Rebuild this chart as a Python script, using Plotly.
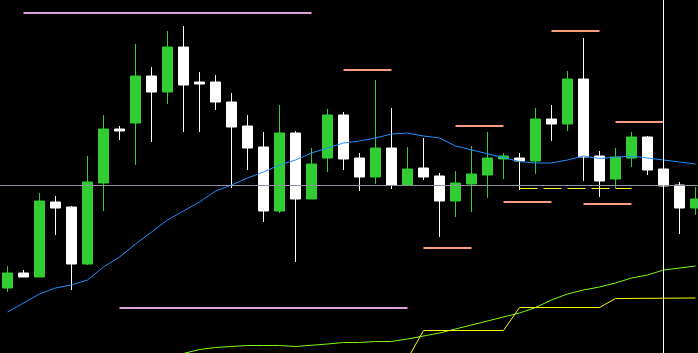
import plotly.graph_objects as go

# ---- data (price units; bar index on x) ----
bars = list(range(44))
opens = [65, 80, 76, 151, 146, 89, 170, 224, 230, 277, 261, 306, 271, 271, 251, 227, 206, 142, 220, 154,
         195, 238, 195, 176, 205, 168, 185, 177, 152, 169, 178, 194, 195, 192, 234, 229, 274, 197, 174, 195,
         216, 184, 168, 145]
highs = [87, 83, 160, 157, 147, 197, 238, 227, 309, 286, 322, 327, 281, 278, 260, 238, 221, 248, 222, 205,
         244, 241, 200, 273, 245, 206, 215, 180, 182, 207, 221, 200, 200, 245, 248, 282, 315, 202, 205, 221,
         217, 184, 171, 166]
lows = [61, 76, 76, 118, 63, 88, 142, 213, 188, 211, 249, 221, 221, 243, 165, 183, 131, 140, 91, 154,
        181, 183, 162, 169, 164, 168, 173, 116, 136, 141, 155, 174, 163, 179, 212, 222, 172, 156, 165, 186,
        178, 167, 119, 138]
closes = [80, 76, 152, 145, 89, 171, 224, 222, 277, 261, 306, 268, 269, 251, 226, 205, 142, 220, 154, 189,
          238, 194, 176, 205, 168, 184, 176, 152, 170, 179, 195, 197, 192, 234, 229, 274, 196, 172, 196, 216,
          183, 167, 145, 154]

ma_values = [41, 50, 59, 65, 68, 73, 86, 96, 109, 121, 133, 142, 151, 162, 168, 175, 181, 188, 193, 200,
             205, 210, 212, 215, 219, 220, 217, 215, 207, 203, 199, 195, 191.5, 190, 190, 193, 197, 194.5, 196, 197,
             195, 193, 191.5, 189]

lime_bars = list(range(10, 44))
lime_values = [-3, -0.5, 3.5, 5.5, 6.5, 7.5, 7.5, 7.5, 6.5, 7.5, 9, 10.5, 10.5, 11.5, 11.5, 14, 17, 20, 24, 28,
               32, 36, 40, 45.5, 53, 59, 63, 66, 70, 75, 78, 83, 85, 87]

yellow_bars = list(range(24, 44))
yellow_values = [-6, -6, 22.5, 22.5, 22.5, 22.5, 22.5, 22.5, 45.5, 45.5, 45.5, 45.5, 45.5, 45.5,
                 54.5, 54.5, 54.5, 54.5, 54.5, 55]

dash_start, dash_end, dash_level = 32, 39, 164.5

salmon_start = [21, 28, 34, 38, 26, 31, 36]
salmon_end = [24, 31, 37, 41, 29, 34, 39]
salmon_level = [283, 227, 322, 231, 105, 151, 149]

violet_start = [1, 7]
violet_end = [19, 25]
violet_level = [340, 45]

cross_bar = 41
cross_level = 167.5

GREEN = "#32cd32"
WHITE = "#ffffff"

fig = go.Figure()

fig.add_trace(go.Candlestick(
    x=bars, open=opens, high=highs, low=lows, close=closes,
    increasing=dict(fillcolor=GREEN, line=dict(color=GREEN, width=1)),
    decreasing=dict(fillcolor=WHITE, line=dict(color=WHITE, width=1)),
    whiskerwidth=0, showlegend=False, hoverinfo="skip",
))

fig.add_trace(go.Scatter(x=bars, y=ma_values, mode="lines",
                         line=dict(color="#1e90ff", width=1), showlegend=False, hoverinfo="skip"))
fig.add_trace(go.Scatter(x=lime_bars, y=lime_values, mode="lines",
                         line=dict(color="#7cfc00", width=1), showlegend=False, hoverinfo="skip"))
fig.add_trace(go.Scatter(x=yellow_bars, y=yellow_values, mode="lines",
                         line=dict(color="#ffff00", width=1), showlegend=False, hoverinfo="skip"))
fig.add_trace(go.Scatter(x=[dash_start, dash_end], y=[dash_level, dash_level], mode="lines",
                         line=dict(color="#ffff33", width=1, dash="18px,6px"),
                         showlegend=False, hoverinfo="skip"))

for s, e, v in zip(salmon_start, salmon_end, salmon_level):
    fig.add_trace(go.Scatter(x=[s, e], y=[v, v], mode="lines",
                             line=dict(color="#ffa07a", width=2), showlegend=False, hoverinfo="skip"))
for s, e, v in zip(violet_start, violet_end, violet_level):
    fig.add_trace(go.Scatter(x=[s, e], y=[v, v], mode="lines",
                             line=dict(color="#dda0dd", width=2), showlegend=False, hoverinfo="skip"))

fig.add_shape(type="line", xref="paper", yref="y", x0=0, x1=1, y0=cross_level, y1=cross_level,
              line=dict(color="#8c94a0", width=1))
fig.add_shape(type="line", xref="x", yref="paper", x0=cross_bar, x1=cross_bar, y0=0, y1=1,
              line=dict(color="#ffffff", width=1))

fig.update_layout(
    width=698, height=353,
    margin=dict(l=0, r=0, t=0, b=0),
    paper_bgcolor="#000000", plot_bgcolor="#000000",
    showlegend=False,
    boxgap=0.375, boxgroupgap=0,
    xaxis=dict(range=[-0.46875, 43.15625], visible=False, showgrid=False, zeroline=False,
               rangeslider=dict(visible=False), fixedrange=True),
    yaxis=dict(range=[0, 353], visible=False, showgrid=False, zeroline=False, fixedrange=True),
)

fig.write_html("out.html", config={"displayModeBar": False})
